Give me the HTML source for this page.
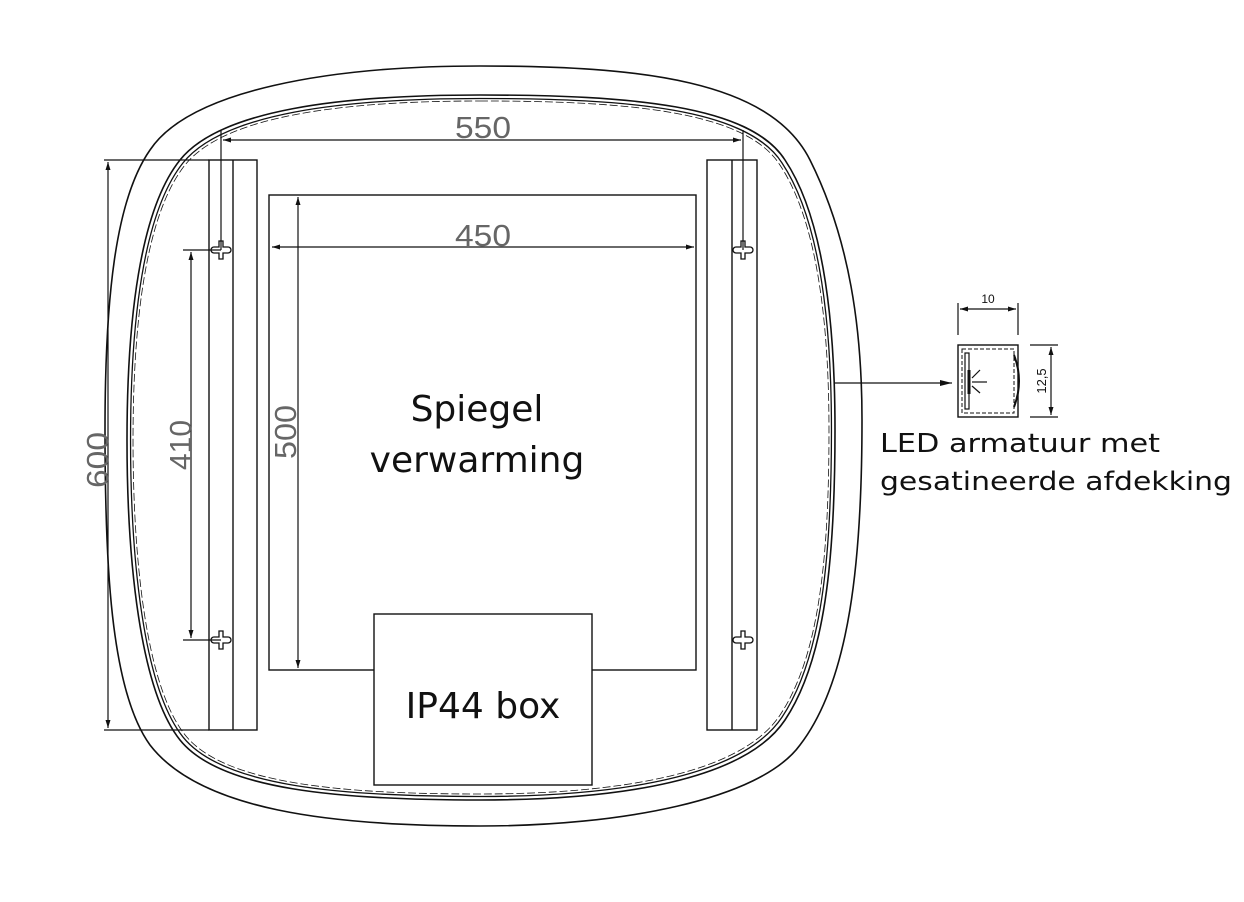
<!DOCTYPE html>
<html><head><meta charset="utf-8"><style>html,body{margin:0;padding:0;background:#fff}svg{display:block}</style></head>
<body>
<svg width="1244" height="902" viewBox="0 0 1244 902" xmlns="http://www.w3.org/2000/svg">
<defs>
<marker id="ar" markerWidth="12" markerHeight="8" refX="12" refY="4" orient="auto" markerUnits="userSpaceOnUse"><path d="M0,1 L12,4 L0,7 Z" fill="#111"/></marker>
<marker id="as" markerWidth="8" markerHeight="6" refX="8" refY="3" orient="auto-start-reverse" markerUnits="userSpaceOnUse"><path d="M0,0.5 L8,3 L0,5.5 Z" fill="#111"/></marker>
<path id="inner" d="M480 95 C630 95,750 105,785 160 C825 220,835 330,835 430 C835 560,825 660,785 720 C745 780,620 800,480 800 C340 800,220 790,180 740 C140 690,127 560,127 440 C127 320,140 210,180 160 C220 110,340 95,480 95 Z"/>
</defs>
<g fill="none" stroke="#111" stroke-width="1.6">
<path d="M480 66 C640 66,770 80,810 160 C850 240,862 330,862 420 C862 560,850 680,800 745 C760 800,620 826,480 826 C330 826,200 810,150 745 C110 690,105 560,105 430 C105 300,115 200,150 150 C190 90,330 66,480 66 Z"/>
<use href="#inner"/>
<use href="#inner" transform="translate(481 447) scale(0.99) translate(-481 -447)" stroke-width="1.3"/>
<use href="#inner" transform="translate(481 447) scale(0.983) translate(-481 -447)" stroke-width="0.8" stroke-dasharray="8 3"/>
</g>
<g fill="#fff" stroke="#111" stroke-width="1.4">
<rect x="209" y="160" width="48" height="570" fill="none"/>
<line x1="233" y1="160" x2="233" y2="730"/>
<rect x="707" y="160" width="50" height="570" fill="none"/>
<line x1="732" y1="160" x2="732" y2="730"/>
<rect x="269" y="195" width="427" height="475" fill="none"/>
<rect x="374" y="614" width="218" height="171"/>
</g>
<g fill="#fff" stroke="#111" stroke-width="1.3">
<path id="kh" d="M219 241 h4 v6 h5 a3 3 0 0 1 0 6 h-5 v6 h-4 v-6 h-5 a3 3 0 0 1 0 -6 h5 z"/>
<use href="#kh" transform="translate(0 390)"/>
<use href="#kh" transform="translate(522 0)"/>
<use href="#kh" transform="translate(522 390)"/>
</g>
<g stroke="#111" stroke-width="1.2" fill="none">
<line x1="221" y1="130" x2="221" y2="250"/>
<line x1="743" y1="130" x2="743" y2="250"/>
<line x1="223" y1="140" x2="741" y2="140" marker-start="url(#as)" marker-end="url(#as)"/>
<line x1="272" y1="247" x2="694" y2="247" marker-start="url(#as)" marker-end="url(#as)"/>
<line x1="298" y1="197" x2="298" y2="668" marker-start="url(#as)" marker-end="url(#as)"/>
<line x1="183" y1="250" x2="221" y2="250"/>
<line x1="183" y1="640" x2="221" y2="640"/>
<line x1="191" y1="252" x2="191" y2="638" marker-start="url(#as)" marker-end="url(#as)"/>
<line x1="104" y1="160" x2="209" y2="160"/>
<line x1="104" y1="730" x2="209" y2="730"/>
<line x1="108" y1="162" x2="108" y2="728" marker-start="url(#as)" marker-end="url(#as)"/>
<line x1="835" y1="383" x2="952" y2="383" marker-end="url(#ar)"/>
</g>
<g font-family="Liberation Sans, sans-serif" font-size="31" fill="#666" text-anchor="middle">
<text x="483" y="138" textLength="56" lengthAdjust="spacingAndGlyphs">550</text>
<text x="483" y="246" textLength="56" lengthAdjust="spacingAndGlyphs">450</text>
<text transform="translate(296 432) rotate(-90)" textLength="54" lengthAdjust="spacingAndGlyphs">500</text>
<text transform="translate(191 445) rotate(-90)" textLength="50" lengthAdjust="spacingAndGlyphs">410</text>
<text transform="translate(108 460) rotate(-90)" textLength="56" lengthAdjust="spacingAndGlyphs">600</text>
</g>
<g font-family="DejaVu Sans, sans-serif" fill="#111">
<text x="477" y="421" font-size="36" text-anchor="middle">Spiegel</text>
<text x="477" y="472" font-size="36" text-anchor="middle">verwarming</text>
<text x="483" y="718" font-size="36" text-anchor="middle">IP44 box</text>
<text x="880" y="452" font-size="26" textLength="280" lengthAdjust="spacingAndGlyphs">LED armatuur met</text>
<text x="880" y="490" font-size="26" textLength="352" lengthAdjust="spacingAndGlyphs">gesatineerde afdekking</text>
</g>
<g stroke="#111" fill="none" stroke-width="1.2">
<line x1="958" y1="303" x2="958" y2="335"/>
<line x1="1018" y1="303" x2="1018" y2="335"/>
<line x1="960" y1="309" x2="1016" y2="309" marker-start="url(#as)" marker-end="url(#as)"/>
<rect x="958" y="345" width="60" height="72" stroke-width="1.4"/>
<rect x="962" y="349" width="52" height="64" stroke-width="1" stroke-dasharray="4 2"/>
<path d="M1014 355 Q1024 381 1014 407" stroke-width="2"/>
<rect x="965" y="353" width="4" height="56"/>
<line x1="969" y1="370" x2="969" y2="394" stroke-width="3"/>
<line x1="972" y1="382" x2="987" y2="382"/>
<line x1="972" y1="378" x2="980" y2="370"/>
<line x1="972" y1="386" x2="980" y2="393"/>
<line x1="1030" y1="345" x2="1058" y2="345"/>
<line x1="1030" y1="417" x2="1058" y2="417"/>
<line x1="1051" y1="347" x2="1051" y2="415" marker-start="url(#as)" marker-end="url(#as)"/>
</g>
<text x="988" y="303" font-family="Liberation Sans, sans-serif" font-size="12" fill="#111" text-anchor="middle">10</text>
<text transform="translate(1046 381) rotate(-90)" font-family="Liberation Sans, sans-serif" font-size="13" fill="#111" text-anchor="middle">12,5</text>
</svg>
</body></html>
